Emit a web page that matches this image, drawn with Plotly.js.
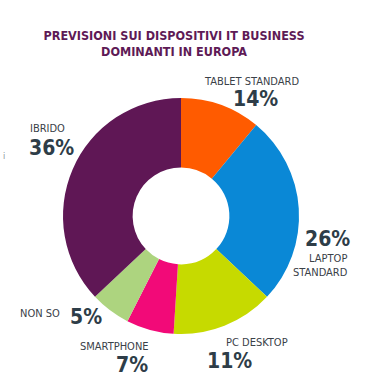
<!DOCTYPE html>
<html>
<head>
<meta charset="utf-8">
<script src="https://cdn.plot.ly/plotly-3.0.1.min.js"></script>
<style>html,body{margin:0;padding:0;background:#fff;}#chart{width:369px;height:387px;}</style>
</head>
<body>
<div id="chart"></div>
<script>
// Data
var categories = ["TABLET STANDARD", "LAPTOP STANDARD", "PC DESKTOP", "SMARTPHONE", "NON SO", "IBRIDO"];
var sliceShares = [11, 26, 14, 6.5, 5.5, 37];          // slice sizes as drawn
var printedPct = ["14%", "26%", "11%", "7%", "5%", "36%"]; // percentages printed on the chart
var labelLines = [["TABLET STANDARD"], ["LAPTOP", "STANDARD"], ["PC DESKTOP"], ["SMARTPHONE"], ["NON SO"], ["IBRIDO"]];
var sliceColors = ["#FF5B00", "#0A88D6", "#C6DA00", "#F20A78", "#ADD47F", "#5F1755"];

var W = 369, H = 387;
function px(x) { return x / W; }
function py(y) { return 1 - y / H; }

var cx = 181, cy = 216, R = 118;

var trace = {
  type: "pie",
  labels: categories,
  values: sliceShares,
  marker: { colors: sliceColors, line: { width: 0 } },
  hole: 0.41,
  sort: false,
  direction: "clockwise",
  rotation: 0,
  textinfo: "none",
  hoverinfo: "label+percent",
  showlegend: false,
  domain: { x: [px(cx - R), px(cx + R)], y: [py(cy + R), py(cy - R)] }
};

var smallFont = { family: "DejaVu Sans Condensed, DejaVu Sans, sans-serif", size: 11, color: "#3A4148" };
var bigFont = { family: "DejaVu Sans Condensed, DejaVu Sans, sans-serif", size: 21, color: "#2E3D48", weight: 700 };

// label placement (style)
var placement = [
  { lx: 251, ly: 81, la: "center", px: 255, py: 99, pa: "center" },
  { lx: 350, ly: 265, la: "right", px: 327, py: 239, pa: "center" },
  { lx: 257, ly: 342, la: "center", px: 230, py: 361, pa: "center" },
  { lx: 151, ly: 346, la: "right", px: 150, py: 365, pa: "right" },
  { lx: 62, ly: 313, la: "right", px: 68, py: 317, pa: "left" },
  { lx: 28, ly: 128, la: "left", px: 27, py: 148, pa: "left" }
];

var annotations = [];
for (var i = 0; i < categories.length; i++) {
  var p = placement[i];
  annotations.push({
    xref: "paper", yref: "paper", x: px(p.lx), y: py(p.ly),
    xanchor: p.la, yanchor: "middle", align: p.la, showarrow: false,
    text: labelLines[i].join("<br>"), font: smallFont
  });
  annotations.push({
    xref: "paper", yref: "paper", x: px(p.px), y: py(p.py),
    xanchor: p.pa, yanchor: "middle", showarrow: false,
    text: "<b>" + printedPct[i] + "</b>", font: bigFont
  });
}
annotations.push({
  xref: "paper", yref: "paper", x: px(1), y: py(156), xanchor: "left", yanchor: "middle",
  showarrow: false, text: "i", font: { family: "DejaVu Sans", size: 8, color: "#8a8f9a" }
});

var layout = {
  width: W, height: H,
  margin: { l: 0, r: 0, t: 0, b: 0, pad: 0 },
  paper_bgcolor: "#ffffff",
  title: {
    text: "PREVISIONI SUI DISPOSITIVI IT BUSINESS<br>DOMINANTI IN EUROPA",
    x: px(174), xanchor: "center", y: py(40), yanchor: "middle",
    font: { family: "DejaVu Sans Condensed, DejaVu Sans, sans-serif", size: 12.5, color: "#5E1A56", weight: 700 }
  },
  annotations: annotations
};

Plotly.newPlot("chart", [trace], layout, { displayModeBar: false, staticPlot: true });
</script>
</body>
</html>
